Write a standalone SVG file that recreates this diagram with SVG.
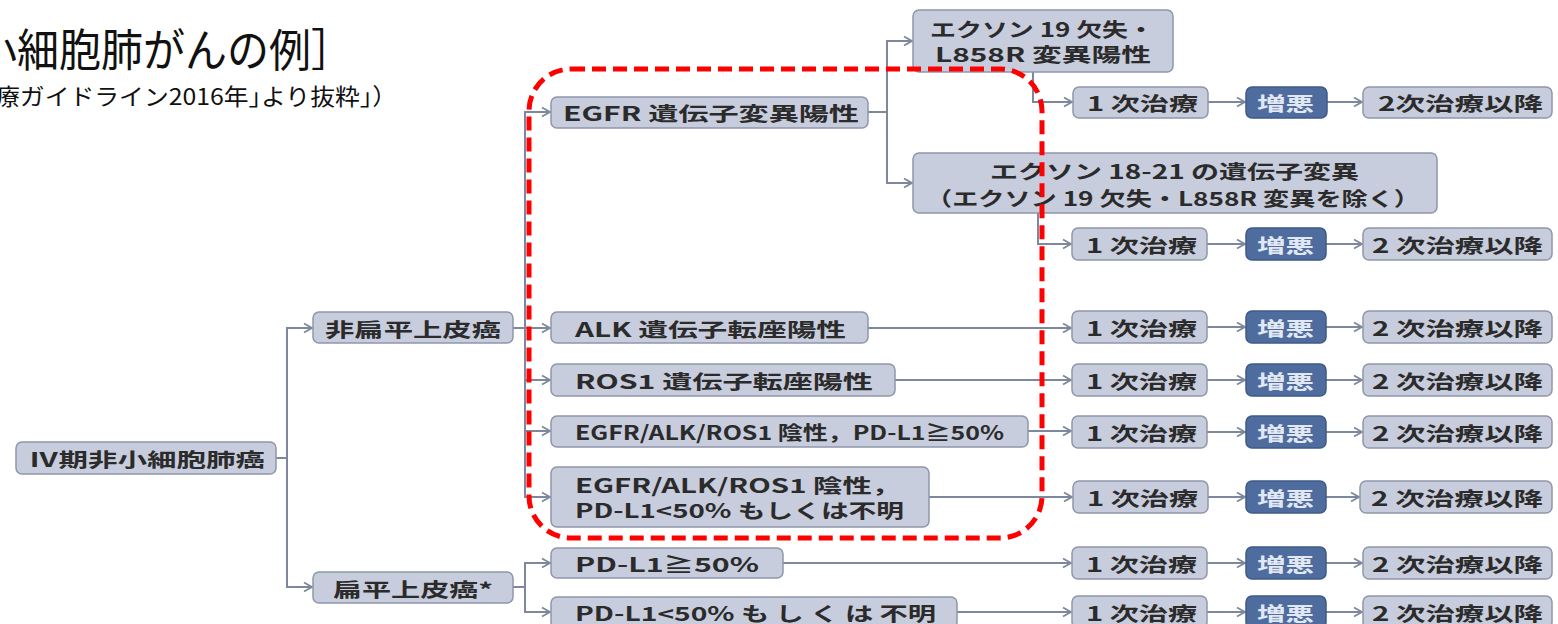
<svg xmlns="http://www.w3.org/2000/svg" width="1558" height="624" viewBox="0 0 1558 624">
<style>
.box{fill:#c8cddd;stroke:#8f96aa;stroke-width:1.5}
.dk{fill:#4f6c9f;stroke:#3f5a88;stroke-width:1.5}
.t{font-family:"Noto Sans CJK JP","Noto Sans",sans-serif;font-size:19.5px;font-weight:bold;fill:#2b2b2b;dominant-baseline:central}
.tw{fill:#e2e8f3}
.c{fill:none;stroke:#7d889c;stroke-width:2}
.ttl{font-family:"Noto Sans CJK JP","Liberation Sans",sans-serif;fill:#111}
</style>
<defs>
<marker id="a" markerWidth="12" markerHeight="12" refX="10" refY="6" orient="auto" markerUnits="userSpaceOnUse">
<path d="M2,1.5 L10,6 L2,10.5" fill="none" stroke="#7d889c" stroke-width="1.8"/>
</marker>
</defs>
<rect width="1558" height="624" fill="#ffffff"/>
<text class="ttl" x="-25" y="67" font-size="45" textLength="378" lengthAdjust="spacingAndGlyphs">小細胞肺がんの例］</text>
<text class="ttl" x="-5" y="105" font-size="23" textLength="402" lengthAdjust="spacingAndGlyphs">療ガイドライン2016年｣より抜粋｣）</text>

<g id="connectors">
<path class="c" d="M276,458 H287"/>
<path class="c" d="M287,458 V328 H312" marker-end="url(#a)"/>
<path class="c" d="M287,458 V587 H312" marker-end="url(#a)"/>
<path class="c" d="M513,328 H525"/>
<path class="c" d="M525,328 V112 H550" marker-end="url(#a)"/>
<path class="c" d="M525,328 H550" marker-end="url(#a)"/>
<path class="c" d="M525,328 V380 H550" marker-end="url(#a)"/>
<path class="c" d="M525,328 V431 H550" marker-end="url(#a)"/>
<path class="c" d="M525,328 V497 H550" marker-end="url(#a)"/>
<path class="c" d="M513,587 H525"/>
<path class="c" d="M525,587 V563 H550" marker-end="url(#a)"/>
<path class="c" d="M525,587 V612 H550" marker-end="url(#a)"/>
<path class="c" d="M868,112 H887"/>
<path class="c" d="M887,112 V41 H912" marker-end="url(#a)"/>
<path class="c" d="M887,112 V183 H912" marker-end="url(#a)"/>
<path class="c" d="M1033,72 V102 H1072" marker-end="url(#a)"/>
<path class="c" d="M1038,213 V244 H1071" marker-end="url(#a)"/>
<path class="c" d="M868,328 H1071" marker-end="url(#a)"/>
<path class="c" d="M895,380 H1071" marker-end="url(#a)"/>
<path class="c" d="M1028,431 H1071" marker-end="url(#a)"/>
<path class="c" d="M929,497 H1072" marker-end="url(#a)"/>
<path class="c" d="M783,563 H1071" marker-end="url(#a)"/>
<path class="c" d="M957,612 H1071" marker-end="url(#a)"/>
<path class="c" d="M1208,102 H1245" marker-end="url(#a)"/>
<path class="c" d="M1327,102 H1362" marker-end="url(#a)"/>
<path class="c" d="M1207,244 H1245" marker-end="url(#a)"/>
<path class="c" d="M1326,244 H1362" marker-end="url(#a)"/>
<path class="c" d="M1207,327 H1245" marker-end="url(#a)"/>
<path class="c" d="M1326,327 H1362" marker-end="url(#a)"/>
<path class="c" d="M1207,380 H1245" marker-end="url(#a)"/>
<path class="c" d="M1326,380 H1362" marker-end="url(#a)"/>
<path class="c" d="M1207,432 H1245" marker-end="url(#a)"/>
<path class="c" d="M1326,432 H1362" marker-end="url(#a)"/>
<path class="c" d="M1208,497 H1245" marker-end="url(#a)"/>
<path class="c" d="M1326,497 H1359" marker-end="url(#a)"/>
<path class="c" d="M1207,563 H1245" marker-end="url(#a)"/>
<path class="c" d="M1326,563 H1362" marker-end="url(#a)"/>
<path class="c" d="M1207,612 H1245" marker-end="url(#a)"/>
<path class="c" d="M1326,612 H1362" marker-end="url(#a)"/>
</g>

<g id="root"><rect class="box" x="16" y="442" width="260" height="32" rx="6"/><text class="t" x="29" y="458" textLength="236" lengthAdjust="spacingAndGlyphs">Ⅳ期非小細胞肺癌</text></g>
<g id="nonsq"><rect class="box" x="313" y="312" width="200" height="31" rx="6"/><text class="t" x="325" y="328" textLength="176" lengthAdjust="spacingAndGlyphs">非扁平上皮癌</text></g>
<g id="sq"><rect class="box" x="313" y="572" width="200" height="31" rx="6"/><text class="t" x="333" y="588" textLength="160" lengthAdjust="spacingAndGlyphs">扁平上皮癌*</text></g>

<g id="egfr"><rect class="box" x="551" y="97" width="317" height="31" rx="6"/><text class="t" x="563" y="112" textLength="296" lengthAdjust="spacingAndGlyphs">EGFR 遺伝子変異陽性</text></g>
<g id="ex19"><rect class="box" x="913" y="10" width="260" height="62" rx="6"/><text class="t" x="930" y="28" textLength="224" lengthAdjust="spacingAndGlyphs">エクソン 19 欠失・</text><text class="t" x="935" y="53" textLength="216" lengthAdjust="spacingAndGlyphs">L858R 変異陽性</text></g>
<g id="ex1821"><rect class="box" x="913" y="153" width="524" height="60" rx="6"/><text class="t" x="990" y="170" textLength="369" lengthAdjust="spacingAndGlyphs">エクソン 18-21 の遺伝子変異</text><text class="t" x="926" y="197" textLength="494" lengthAdjust="spacingAndGlyphs">（エクソン 19 欠失・L858R 変異を除く）</text></g>
<g id="alk"><rect class="box" x="551" y="312" width="317" height="31" rx="6"/><text class="t" x="575" y="328" textLength="271" lengthAdjust="spacingAndGlyphs">ALK 遺伝子転座陽性</text></g>
<g id="ros1"><rect class="box" x="551" y="364" width="344" height="32" rx="6"/><text class="t" x="575" y="380" textLength="298" lengthAdjust="spacingAndGlyphs">ROS1 遺伝子転座陽性</text></g>
<g id="neg50"><rect class="box" x="551" y="416" width="477" height="31" rx="6"/><text class="t" x="575" y="431" textLength="429" lengthAdjust="spacingAndGlyphs">EGFR/ALK/ROS1 陰性，PD-L1≧50%</text></g>
<g id="negunk"><rect class="box" x="551" y="467" width="378" height="60" rx="6"/><text class="t" x="575" y="484" textLength="326" lengthAdjust="spacingAndGlyphs">EGFR/ALK/ROS1 陰性，</text><text class="t" x="575" y="509" textLength="329" lengthAdjust="spacingAndGlyphs">PD-L1&lt;50% もしくは不明</text></g>
<g id="sq50"><rect class="box" x="551" y="548" width="232" height="30" rx="6"/><text class="t" x="575" y="563" textLength="184" lengthAdjust="spacingAndGlyphs">PD-L1≧50%</text></g>
<g id="squnk"><rect class="box" x="551" y="597" width="406" height="31" rx="6"/><text class="t" x="575" y="612" textLength="361" lengthAdjust="spacingAndGlyphs">PD-L1&lt;50% も し く は 不明</text></g>

<g id="r1a"><rect class="box" x="1073" y="87" width="135" height="31" rx="6"/><text class="t" x="1087" y="102" textLength="111" lengthAdjust="spacingAndGlyphs">1 次治療</text></g>
<g id="r1b"><rect class="dk" x="1246" y="87" width="81" height="31" rx="6"/><text class="t tw" x="1257" y="102" textLength="57" lengthAdjust="spacingAndGlyphs">増悪</text></g>
<g id="r1c"><rect class="box" x="1363" y="87" width="189" height="31" rx="6"/><text class="t" x="1378" y="102" textLength="165" lengthAdjust="spacingAndGlyphs">2次治療以降</text></g>

<g id="r2a"><rect class="box" x="1072" y="228" width="135" height="32" rx="6"/><text class="t" x="1086" y="244" textLength="111" lengthAdjust="spacingAndGlyphs">1 次治療</text></g>
<g id="r2b"><rect class="dk" x="1246" y="228" width="80" height="32" rx="6"/><text class="t tw" x="1257" y="244" textLength="57" lengthAdjust="spacingAndGlyphs">増悪</text></g>
<g id="r2c"><rect class="box" x="1363" y="228" width="189" height="32" rx="6"/><text class="t" x="1372" y="244" textLength="171" lengthAdjust="spacingAndGlyphs">2 次治療以降</text></g>

<g id="r3a"><rect class="box" x="1072" y="311" width="135" height="32" rx="6"/><text class="t" x="1086" y="327" textLength="111" lengthAdjust="spacingAndGlyphs">1 次治療</text></g>
<g id="r3b"><rect class="dk" x="1246" y="311" width="80" height="32" rx="6"/><text class="t tw" x="1257" y="327" textLength="57" lengthAdjust="spacingAndGlyphs">増悪</text></g>
<g id="r3c"><rect class="box" x="1363" y="311" width="189" height="32" rx="6"/><text class="t" x="1372" y="327" textLength="171" lengthAdjust="spacingAndGlyphs">2 次治療以降</text></g>

<g id="r4a"><rect class="box" x="1072" y="364" width="135" height="32" rx="6"/><text class="t" x="1086" y="380" textLength="111" lengthAdjust="spacingAndGlyphs">1 次治療</text></g>
<g id="r4b"><rect class="dk" x="1246" y="364" width="80" height="32" rx="6"/><text class="t tw" x="1257" y="380" textLength="57" lengthAdjust="spacingAndGlyphs">増悪</text></g>
<g id="r4c"><rect class="box" x="1363" y="364" width="189" height="32" rx="6"/><text class="t" x="1372" y="380" textLength="171" lengthAdjust="spacingAndGlyphs">2 次治療以降</text></g>

<g id="r5a"><rect class="box" x="1072" y="416" width="135" height="32" rx="6"/><text class="t" x="1086" y="432" textLength="111" lengthAdjust="spacingAndGlyphs">1 次治療</text></g>
<g id="r5b"><rect class="dk" x="1246" y="416" width="80" height="32" rx="6"/><text class="t tw" x="1257" y="432" textLength="57" lengthAdjust="spacingAndGlyphs">増悪</text></g>
<g id="r5c"><rect class="box" x="1363" y="416" width="189" height="32" rx="6"/><text class="t" x="1372" y="432" textLength="171" lengthAdjust="spacingAndGlyphs">2 次治療以降</text></g>

<g id="r6a"><rect class="box" x="1073" y="481" width="135" height="32" rx="6"/><text class="t" x="1087" y="497" textLength="111" lengthAdjust="spacingAndGlyphs">1 次治療</text></g>
<g id="r6b"><rect class="dk" x="1246" y="481" width="80" height="32" rx="6"/><text class="t tw" x="1257" y="497" textLength="57" lengthAdjust="spacingAndGlyphs">増悪</text></g>
<g id="r6c"><rect class="box" x="1360" y="481" width="192" height="32" rx="6"/><text class="t" x="1371" y="497" textLength="172" lengthAdjust="spacingAndGlyphs">2 次治療以降</text></g>

<g id="r7a"><rect class="box" x="1072" y="547" width="135" height="32" rx="6"/><text class="t" x="1086" y="563" textLength="111" lengthAdjust="spacingAndGlyphs">1 次治療</text></g>
<g id="r7b"><rect class="dk" x="1246" y="547" width="80" height="32" rx="6"/><text class="t tw" x="1257" y="563" textLength="57" lengthAdjust="spacingAndGlyphs">増悪</text></g>
<g id="r7c"><rect class="box" x="1363" y="547" width="189" height="32" rx="6"/><text class="t" x="1372" y="563" textLength="171" lengthAdjust="spacingAndGlyphs">2 次治療以降</text></g>

<g id="r8a"><rect class="box" x="1072" y="596" width="135" height="32" rx="6"/><text class="t" x="1086" y="612" textLength="111" lengthAdjust="spacingAndGlyphs">1 次治療</text></g>
<g id="r8b"><rect class="dk" x="1246" y="596" width="80" height="32" rx="6"/><text class="t tw" x="1257" y="612" textLength="57" lengthAdjust="spacingAndGlyphs">増悪</text></g>
<g id="r8c"><rect class="box" x="1363" y="596" width="189" height="32" rx="6"/><text class="t" x="1372" y="612" textLength="171" lengthAdjust="spacingAndGlyphs">2 次治療以降</text></g>

<g id="highlight"><rect x="529" y="69" width="513" height="469" rx="42" fill="none" stroke="#ff0000" stroke-width="5" stroke-dasharray="14 7"/></g>
</svg>
